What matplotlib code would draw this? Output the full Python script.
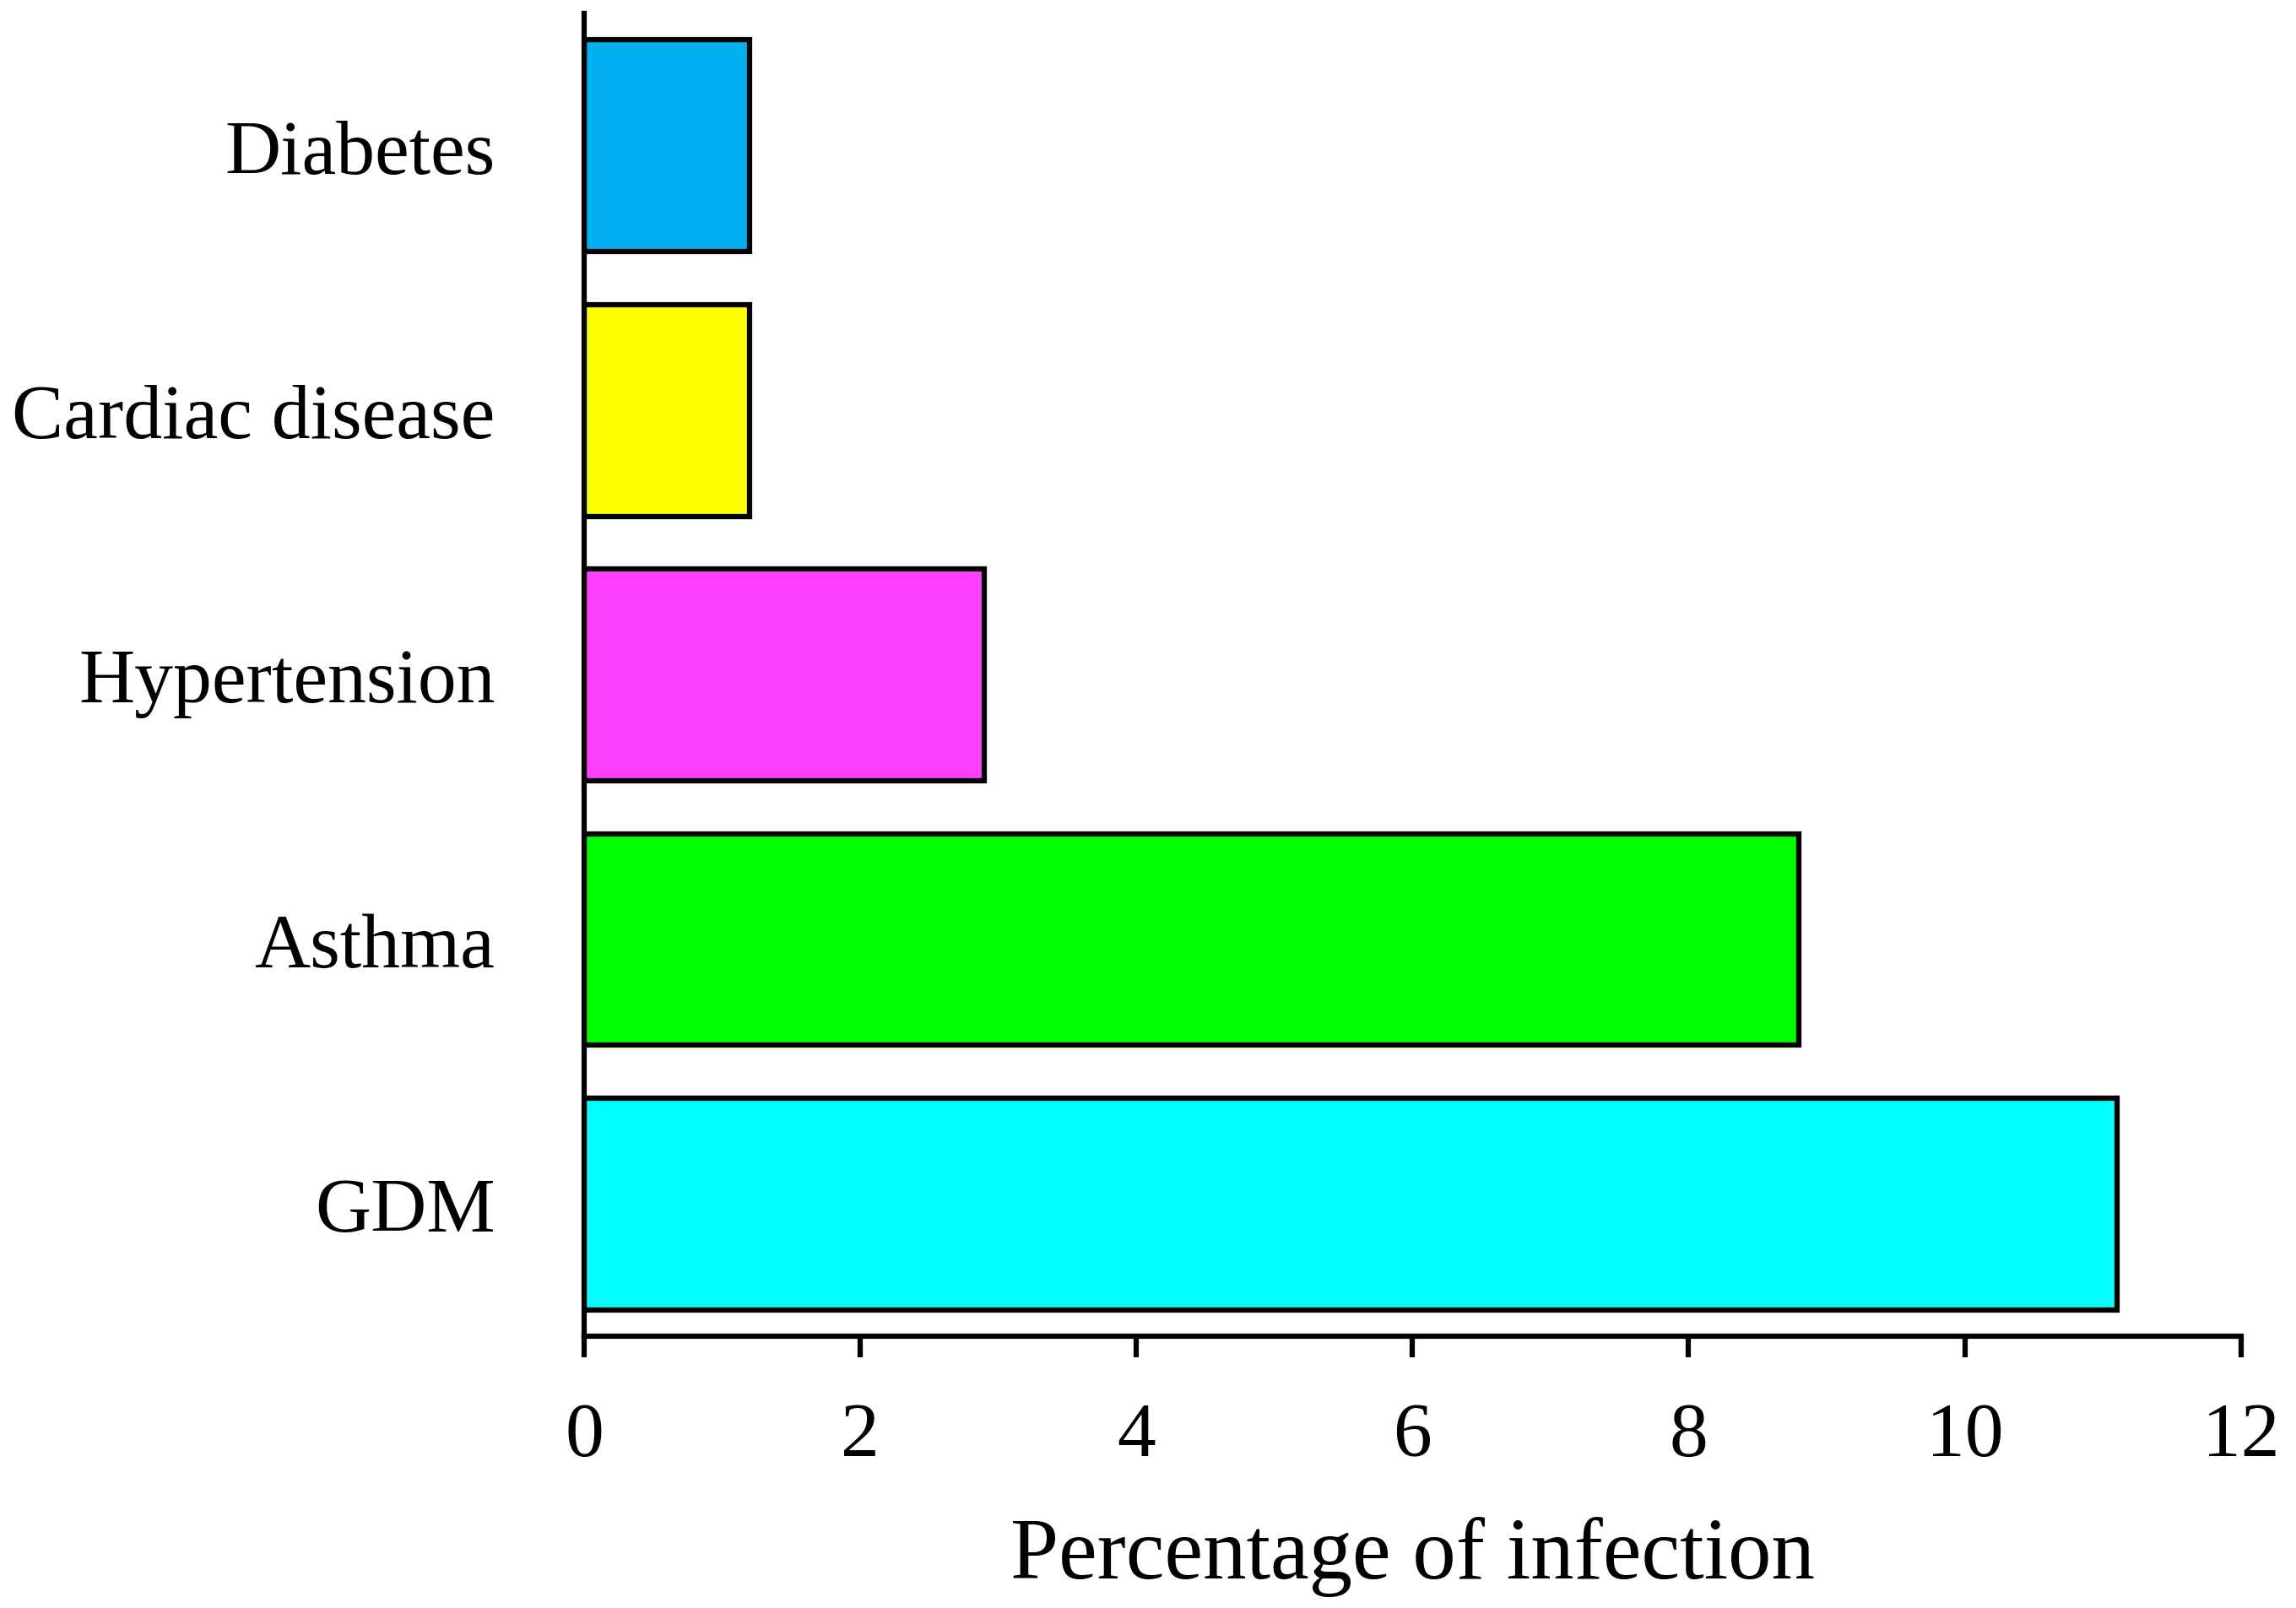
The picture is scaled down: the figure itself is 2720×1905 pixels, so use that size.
import numpy as np
import matplotlib.pyplot as plt

categories = ['GDM', 'Asthma', 'Hypertension', 'Cardiac disease', 'Diabetes']
values = [11.1, 8.8, 2.9, 1.2, 1.2]
colors = ['#00FFFF', '#00FF00', '#FF40FF', '#FFFF00', '#00B0F0']
xticks = [0, 2, 4, 6, 8, 10, 12]

plt.rcParams['font.family'] = ['Liberation Serif', 'DejaVu Serif']

fig = plt.figure(figsize=(27.2, 19.06), dpi=100)
ax = fig.add_axes([0.2544, 0.169, 0.7216, 0.822])

y = np.arange(len(categories))
ax.barh(y, values, height=0.8, color=colors, edgecolor='black', linewidth=4.5)

ax.set_xlim(0, 12)
ax.set_ylim(-0.5, 4.5)
ax.set_xticks(xticks)
ax.set_xticklabels([str(t) for t in xticks])
ax.set_yticks(y)
ax.set_yticklabels(categories)

for s in ['top', 'right']:
    ax.spines[s].set_visible(False)
for s in ['left', 'bottom']:
    ax.spines[s].set_linewidth(4.5)

ax.tick_params(axis='x', direction='out', length=18, width=4.5, pad=38, labelsize=66)
ax.tick_params(axis='y', length=0, pad=76, labelsize=66)

ax.set_xlabel('Percentage of infection', fontsize=74, labelpad=38)

fig.savefig('out.png', dpi=100)
